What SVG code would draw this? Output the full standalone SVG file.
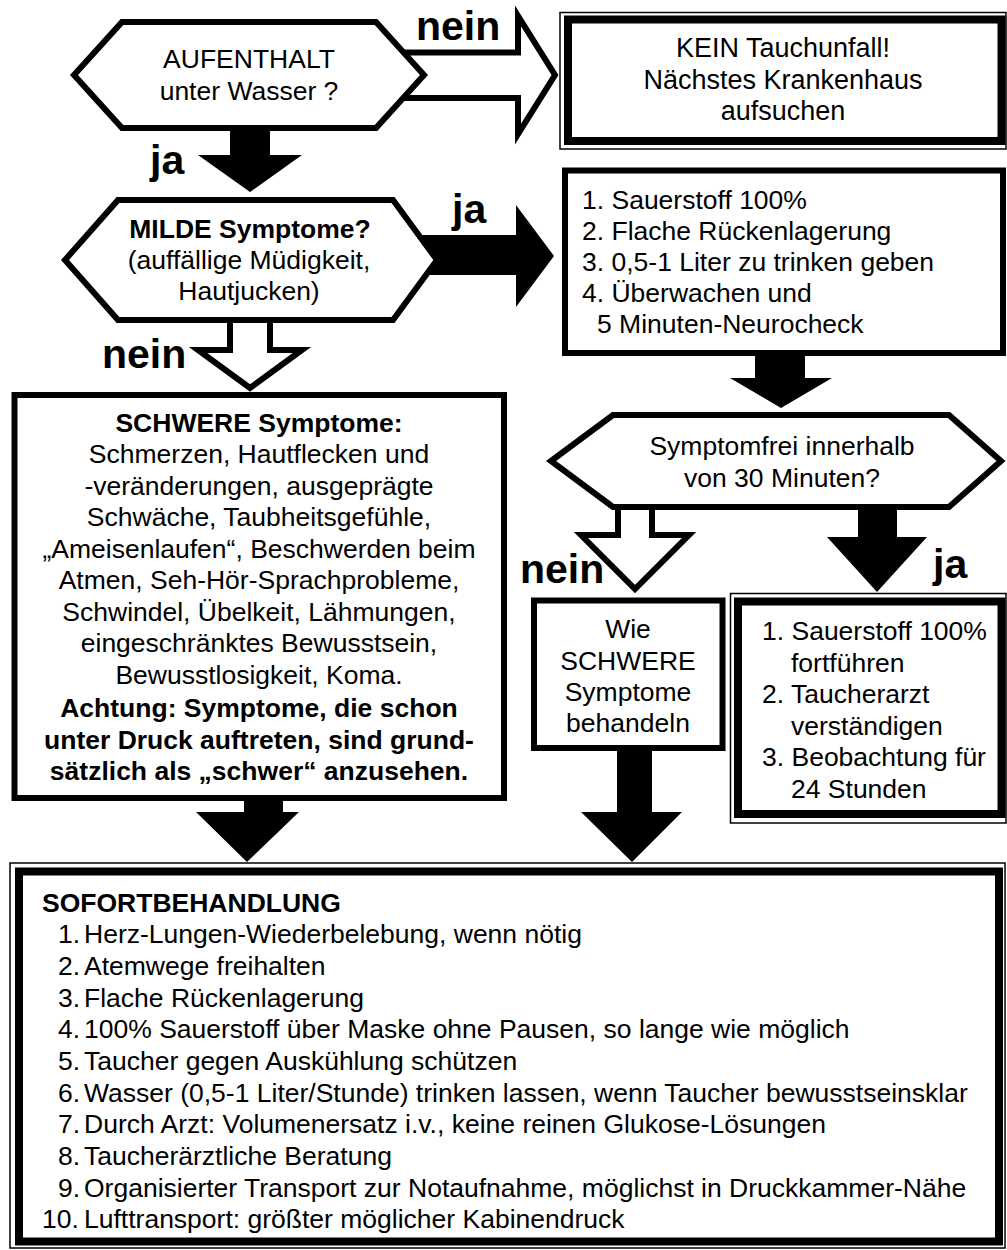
<svg xmlns="http://www.w3.org/2000/svg" width="1007" height="1250" viewBox="0 0 1007 1250">
<style>
.t{font-family:"Liberation Sans",Arial,sans-serif;font-size:26.5px;fill:#000}
.c{text-anchor:middle}
.b{font-weight:bold}
.lbl{font-family:"Liberation Sans",Arial,sans-serif;font-size:41px;font-weight:bold;fill:#000}
.shape{fill:#fff;stroke:#000;stroke-width:6;stroke-linejoin:miter;stroke-miterlimit:10}
.thin{fill:#fff;stroke:#000;stroke-width:1.5}
.thick{fill:#fff;stroke:#000;stroke-width:8}
.ab{fill:#000;stroke:none}
.aw{fill:#fff;stroke:#000;stroke-width:6;stroke-linejoin:miter;stroke-miterlimit:10}
</style>
<rect width="1007" height="1250" fill="#fff"/>
<g id="connectors">
  <polygon class="aw" points="390,52.5 518,52.5 518,16 555,75 518,134 518,98 390,98"/>
  <polygon class="ab" points="230,120 270,120 270,155 302,155 250,192 198,155 230,155"/>
  <polygon class="ab" points="420,235 516,235 516,205 554,256 516,307 516,275 420,275"/>
  <polygon class="aw" points="230,310 270,310 270,350 302,350 250,388 198,350 230,350"/>
  <polygon class="ab" points="755,350 805,350 805,378 832,378 781,408 730,378 755,378"/>
  <polygon class="aw" points="618,500 652,500 652,535 689,535 635,589 581,535 618,535"/>
  <polygon class="ab" points="858,500 897,500 897,537 927,537 877,592 827,537 858,537"/>
  <polygon class="ab" points="244,790 283,790 283,812 299,812 247,862 196,812 244,812"/>
  <polygon class="ab" points="617,740 652,740 652,812 682,812 632,862 581,812 617,812"/>
  <text class="lbl" x="416" y="40">nein</text>
  <text class="lbl" x="150" y="174">ja</text>
  <text class="lbl" x="452" y="223">ja</text>
  <text class="lbl" x="102" y="368">nein</text>
  <text class="lbl" x="520" y="583">nein</text>
  <text class="lbl" x="933" y="578">ja</text>
</g>
<g id="q-aufenthalt">
  <polygon class="shape" points="74,75 122,22 376,22 424,75 376,128 122,128"/>
  <text class="t c" x="249" y="68">AUFENTHALT</text>
  <text class="t c" x="249" y="100">unter Wasser ?</text>
</g>
<g id="kein-tauchunfall">
  <rect class="thin" x="560" y="12.5" width="446" height="136.5"/>
  <rect class="thick" x="568" y="19.5" width="433.5" height="121.5"/>
  <text class="t c" x="783" y="57" style="font-size:27px">KEIN Tauchunfall!</text>
  <text class="t c" x="783" y="88.5" style="font-size:27px">Nächstes Krankenhaus</text>
  <text class="t c" x="783" y="120" style="font-size:27px">aufsuchen</text>
</g>
<g id="q-milde">
  <polygon class="shape" points="65,260 118,200 393,200 437,260 393,320 118,320"/>
  <text class="t c b" x="250" y="238">MILDE Symptome?</text>
  <text class="t c" x="249" y="269">(auffällige Müdigkeit,</text>
  <text class="t c" x="249" y="300">Hautjucken)</text>
</g>
<g id="milde-behandlung">
  <rect class="shape" x="565" y="170.5" width="438" height="182.5"/>
  <text class="t" x="582" y="209">1. Sauerstoff 100%</text>
  <text class="t" x="582" y="240">2. Flache Rückenlagerung</text>
  <text class="t" x="582" y="271">3. 0,5-1 Liter zu trinken geben</text>
  <text class="t" x="582" y="302">4. Überwachen und</text>
  <text class="t" x="597" y="333">5 Minuten-Neurocheck</text>
</g>
<g id="schwere-symptome">
  <rect class="shape" x="14.5" y="395" width="489.5" height="403"/>
  <text class="t c b" x="259" y="431.5">SCHWERE Symptome:</text>
  <text class="t c" x="259" y="463">Schmerzen, Hautflecken und</text>
  <text class="t c" x="259" y="494.5">-veränderungen, ausgeprägte</text>
  <text class="t c" x="259" y="526">Schwäche, Taubheitsgefühle,</text>
  <text class="t c" x="259" y="557.5">„Ameisenlaufen“, Beschwerden beim</text>
  <text class="t c" x="259" y="589">Atmen, Seh-Hör-Sprachprobleme,</text>
  <text class="t c" x="259" y="620.5">Schwindel, Übelkeit, Lähmungen,</text>
  <text class="t c" x="259" y="652">eingeschränktes Bewusstsein,</text>
  <text class="t c" x="259" y="683.5">Bewusstlosigkeit, Koma.</text>
  <text class="t c b" x="259" y="717">Achtung: Symptome, die schon</text>
  <text class="t c b" x="259" y="748.5">unter Druck auftreten, sind grund-</text>
  <text class="t c b" x="259" y="780">sätzlich als „schwer“ anzusehen.</text>
</g>
<g id="q-symptomfrei">
  <polygon class="shape" points="551,461 613,415 949,415 1001,461 949,507 613,507"/>
  <text class="t c" x="782" y="455">Symptomfrei innerhalb</text>
  <text class="t c" x="782" y="487">von 30 Minuten?</text>
</g>
<g id="wie-schwere">
  <rect class="shape" x="534" y="600.5" width="188.5" height="147.5"/>
  <text class="t c" x="628" y="638">Wie</text>
  <text class="t c" x="628" y="669.5">SCHWERE</text>
  <text class="t c" x="628" y="700.5">Symptome</text>
  <text class="t c" x="628" y="731.5">behandeln</text>
</g>
<g id="symptomfrei-behandlung">
  <rect class="thin" x="730.5" y="593.5" width="275.5" height="229.5"/>
  <rect class="thick" x="738" y="601.5" width="263.5" height="212.5"/>
  <text class="t" x="762" y="640">1. Sauerstoff 100%</text>
  <text class="t" x="791" y="671.5">fortführen</text>
  <text class="t" x="762" y="703">2. Taucherarzt</text>
  <text class="t" x="791" y="734.5">verständigen</text>
  <text class="t" x="762" y="766">3. Beobachtung für</text>
  <text class="t" x="791" y="797.5">24 Stunden</text>
</g>
<g id="sofortbehandlung">
  <rect class="thin" x="10" y="863" width="995" height="385"/>
  <rect class="thick" x="19" y="871.5" width="980" height="370"/>
  <text class="t b" x="42" y="911.5">SOFORTBEHANDLUNG</text>
  <text class="t" y="943.3"><tspan x="58">1.</tspan><tspan x="84">Herz-Lungen-Wiederbelebung, wenn nötig</tspan></text>
  <text class="t" y="975"><tspan x="58">2.</tspan><tspan x="84">Atemwege freihalten</tspan></text>
  <text class="t" y="1006.6"><tspan x="58">3.</tspan><tspan x="84">Flache Rückenlagerung</tspan></text>
  <text class="t" y="1038.3"><tspan x="58">4.</tspan><tspan x="84">100% Sauerstoff über Maske ohne Pausen, so lange wie möglich</tspan></text>
  <text class="t" y="1070"><tspan x="58">5.</tspan><tspan x="84">Taucher gegen Auskühlung schützen</tspan></text>
  <text class="t" y="1101.6"><tspan x="58">6.</tspan><tspan x="84">Wasser (0,5-1 Liter/Stunde) trinken lassen, wenn Taucher bewusstseinsklar</tspan></text>
  <text class="t" y="1133.3"><tspan x="58">7.</tspan><tspan x="84">Durch Arzt: Volumenersatz i.v., keine reinen Glukose-Lösungen</tspan></text>
  <text class="t" y="1165"><tspan x="58">8.</tspan><tspan x="84">Taucherärztliche Beratung</tspan></text>
  <text class="t" y="1196.6"><tspan x="58">9.</tspan><tspan x="84">Organisierter Transport zur Notaufnahme, möglichst in Druckkammer-Nähe</tspan></text>
  <text class="t" y="1228.3"><tspan x="42">10.</tspan><tspan x="84">Lufttransport: größter möglicher Kabinendruck</tspan></text>
</g>
</svg>
